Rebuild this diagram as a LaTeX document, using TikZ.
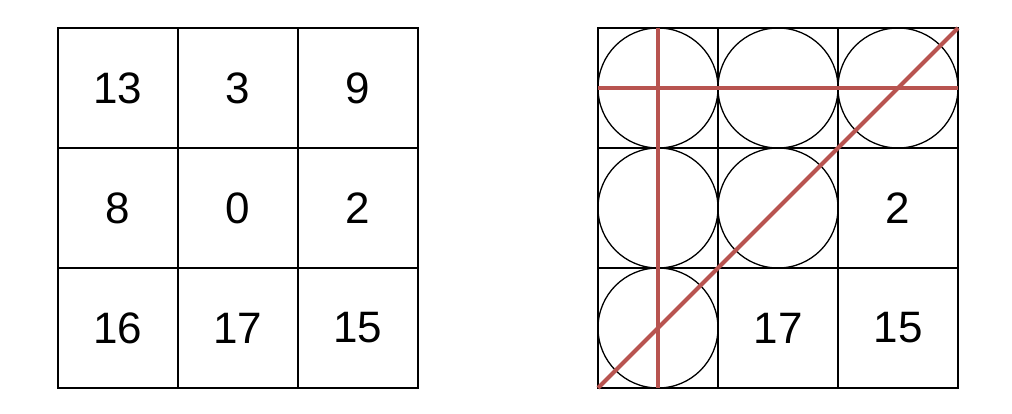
\documentclass[tikz,border=0pt]{standalone}
\usepackage{fontspec}
\setmainfont{Liberation Sans}
\usetikzlibrary{positioning}
\definecolor{strikered}{HTML}{B85450}

\begin{document}
\begin{tikzpicture}[
    x=1pt, y=-1pt,
    node distance=0pt,
    cell/.style={rectangle, draw, line width=1.3pt, minimum size=120pt, inner sep=0pt, outer sep=0pt, font=\fontsize{44}{44}\selectfont},
    ring/.style={circle, draw, line width=1.3pt, minimum size=120pt, inner sep=0pt, outer sep=0pt},
    strike/.style={draw=strikered, line width=4pt}
]
\useasboundingbox (0,0) rectangle (1012,414);

% Left grid
\node[cell] (l11) at (118,88) {13};
\node[cell, right=of l11] (l12) {3};
\node[cell, right=of l12] (l13) {9};
\node[cell, below=of l11] (l21) {8};
\node[cell, right=of l21] (l22) {0};
\node[cell, right=of l22] (l23) {2};
\node[cell, below=of l21] (l31) {16};
\node[cell, right=of l31] (l32) {17};
\node[cell, right=of l32] (l33) {15};

% Right grid
\node[cell] (r11) at (658,88) {};
\node[cell, right=of r11] (r12) {};
\node[cell, right=of r12] (r13) {};
\node[cell, below=of r11] (r21) {};
\node[cell, right=of r21] (r22) {};
\node[cell, right=of r22] (r23) {2};
\node[cell, below=of r21] (r31) {};
\node[cell, right=of r31] (r32) {17};
\node[cell, right=of r32] (r33) {15};

% Circles
\foreach \c in {11,12,13,21,22,31}
    \node[ring] (c\c) at (r\c) {};

% Strike lines
\draw[strike] (r11.north) -- (r31.south);
\draw[strike] (r11.west) -- (r13.east);
\draw[strike] (r31.south west) -- (r13.north east);

\end{tikzpicture}
\end{document}
